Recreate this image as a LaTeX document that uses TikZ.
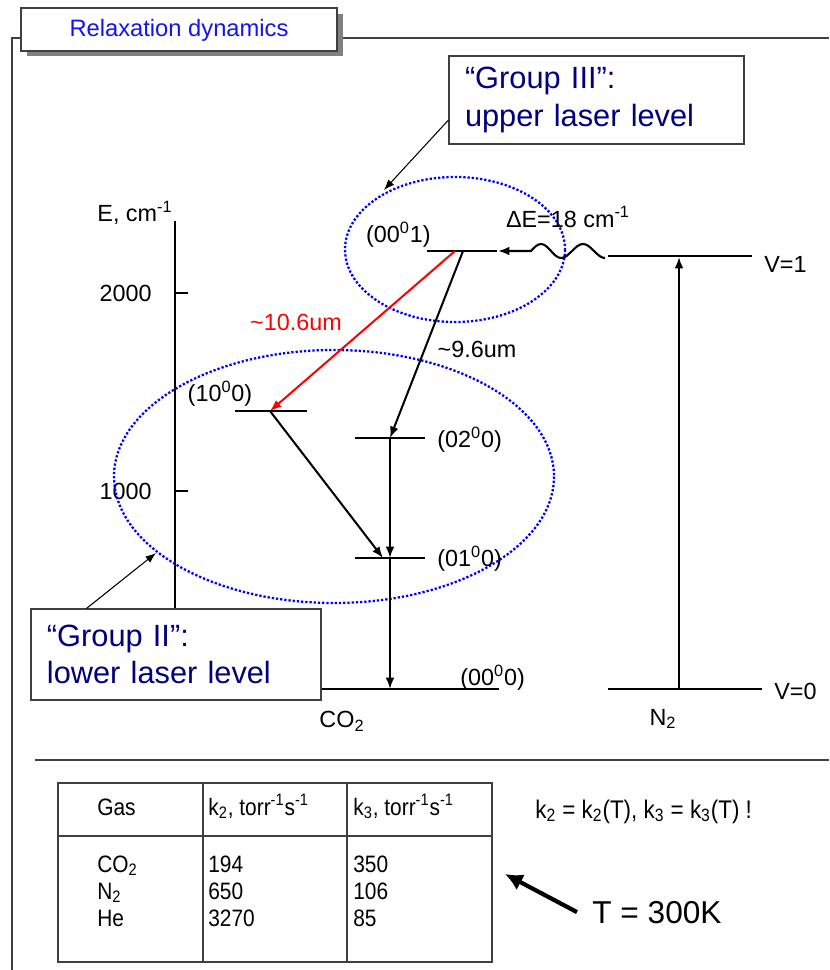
\documentclass[tikz,border=0pt]{standalone}
\usepackage{fontspec}
\setmainfont{Liberation Sans}
\newfontfamily\narrowfont[FakeStretch=0.88]{Liberation Sans}
\usetikzlibrary{arrows.meta}
\definecolor{titleblue}{HTML}{1414F0}
\definecolor{groupblue}{HTML}{00007F}
\definecolor{framegray}{HTML}{404040}
\definecolor{shadowgray}{HTML}{808080}

\begin{document}
\begin{tikzpicture}[
		x=0.2mm, y=-0.2mm,
		level/.style={line width=1.3pt},
		trans/.style={line width=1.15pt, -{Latex[length=6.5pt,width=5pt]}},
		pointer/.style={line width=0.6pt, -{Latex[length=6pt,width=4.5pt]}},
		group/.style={blue, line width=1.3pt, dash pattern=on 1.3pt off 1.1pt},
		gbox/.style={draw=framegray, line width=0.6pt, fill=white, text=groupblue, align=left,
			font=\fontsize{17.5}{21.5}\selectfont, inner xsep=3.2mm},
		lbl/.style={font=\fontsize{13.3}{15}\selectfont, inner sep=0pt},
		tbl/.style={font=\narrowfont\fontsize{13.5}{15}\selectfont, inner sep=0pt, anchor=base west}
		]
		\useasboundingbox (0,0) rectangle (829,970);
		
		% frame and title
		\draw[framegray, line width=0.8pt] (12,970) -- (12,38) -- (21,38);
		\draw[framegray, line width=0.8pt] (343,38) -- (829,38);
		\fill[shadowgray] (27,14) rectangle (343,56);
		\draw[framegray, line width=0.8pt, fill=white] (21,8) rectangle (337,51);
		\node[font=\fontsize{13.5}{16}\selectfont, text=titleblue] (title) at (179,30) {Relaxation dynamics};
		
		% energy axis
		\draw[level] (175,221) -- (175,612);
		\node[lbl, anchor=center] (eaxis) at (135,213) {E, cm\textsuperscript{-1}};
		\foreach \ty/\tv in {293/2000, 491/1000} {
			\draw[level] (175,\ty) -- (188,\ty);
			\node[lbl, anchor=east] (tick\tv) at (152,\ty) {\tv};
		}
		
		% groups
		\draw[group] (455,249.5) ellipse [x radius=110, y radius=72.5];
		\draw[group] (334,476.5) ellipse [x radius=220, y radius=126.5];
		
		% levels
		\draw[level] (427,251) -- (497,251);
		\draw[level] (235,411) -- (307,411);
		\draw[level] (355,438) -- (425,438);
		\draw[level] (355,558) -- (425,558);
		\draw[level] (321,689) -- (499,689);
		\draw[level] (608,256) -- (752,256);
		\draw[level] (608,689) -- (762,689);
		
		\coordinate (e001r) at (455,251);
		\coordinate (e001k) at (463,251);
		\coordinate (e001w) at (498,251);
		\coordinate (e100) at (270,411);
		\coordinate (e020) at (390,438);
		\coordinate (e010) at (390,558);
		\coordinate (e010d) at (383,558);
		\coordinate (e000) at (390,689);
		\coordinate (n2up) at (679,257);
		\coordinate (n2dn) at (679,689);
		\coordinate (n2w) at (605,258);
		
		\node[lbl, anchor=east] (l001) at (431,235) {(00\textsuperscript{0}1)};
		\node[lbl] (l100) at (220,394) {(10\textsuperscript{0}0)};
		\node[lbl, anchor=west] (l020) at (437,440) {(02\textsuperscript{0}0)};
		\node[lbl, anchor=west] (l010) at (437,559) {(01\textsuperscript{0}0)};
		\node[lbl, anchor=west] (l000) at (460,678) {(00\textsuperscript{0}0)};
		\node[lbl, anchor=west] (lv1) at (764,264) {V=1};
		\node[lbl, anchor=west] (lv0) at (774,691) {V=0};
		\node[lbl] (lco2) at (342,721) {CO\textsubscript{2}};
		\node[lbl] (ln2) at (663,719) {N\textsubscript{2}};
		\node[lbl] (lde) at (568,217) {ΔE=18 cm\textsuperscript{-1}};
		
		% transitions
		\draw[trans, red] (e001r) -- (e100);
		\node[lbl, text=red] (l106) at (296,322) {\textasciitilde10.6um};
		\draw[trans] (e001k) -- (e020);
		\node[lbl] (l96) at (477,349) {\textasciitilde9.6um};
		\draw[trans] (e100) -- (e010d);
		\draw[trans] (e020) -- (e010);
		\draw[trans] (e010) -- (e000);
		\draw[trans] (n2dn) -- (n2up);
		\draw[trans, line width=1.2pt] (n2w) cos ++(-11,-7) sin ++(-11,-7) cos ++(-11,7) sin ++(-11,7)
			cos ++(-10,-7) sin ++(-10,-7) cos ++(-10,7) -- (e001w);
		
		% group labels
		\node[gbox, text width=52.6mm, minimum height=17.6mm] (g3box) at (596.5,100) {“Group III”:\\upper laser level};
		\draw[pointer] ([yshift=-4mm]g3box.west) -- (384,190);
		\node[gbox, text width=51.6mm, minimum height=18.2mm] (g2box) at (176,654.5) {“Group II”:\\lower laser level};
		\draw[pointer] ([xshift=11.2mm]g2box.north west) -- (156,553);
		
		% table
		\draw[framegray, line width=0.8pt] (35,760) -- (829,760);
		\draw[framegray, line width=0.8pt] (58,783) rectangle (492,962);
		\draw[framegray, line width=0.8pt] (58,836) -- (492,836);
		\foreach \cx in {203,347} {
			\draw[framegray, line width=0.8pt] (\cx,783) -- (\cx,962);
		}
		\node[tbl] (hgas) at (97,815) {Gas};
		\node[tbl] (hk2) at (208,815) {k\textsubscript{2}, torr\textsuperscript{-1}s\textsuperscript{-1}};
		\node[tbl] (hk3) at (353,815) {k\textsubscript{3}, torr\textsuperscript{-1}s\textsuperscript{-1}};
		\node[tbl] (gco2) at (97,872) {CO\textsubscript{2}};
		\node[tbl] (gn2) at (97,899) {N\textsubscript{2}};
		\node[tbl] (ghe) at (97,926) {He};
		\node[tbl] (kco2) at (208,872) {194};
		\node[tbl] (kn2) at (208,899) {650};
		\node[tbl] (khe) at (208,926) {3270};
		\node[tbl] (qco2) at (353,872) {350};
		\node[tbl] (qn2) at (353,899) {106};
		\node[tbl] (qhe) at (353,926) {85};
		\node[tbl, font=\narrowfont\fontsize{14.5}{16}\selectfont] (kT) at (535,818) {k\textsubscript{2} = k\textsubscript{2}(T), k\textsubscript{3} = k\textsubscript{3}(T) !};
		\node[anchor=base west, inner sep=0pt, font=\fontsize{18}{20}\selectfont] (t300) at (592,923) {T = 300K};
		\draw[line width=2.4pt, -{Latex[length=10pt,width=10pt]}] ([xshift=-3mm]t300.west) -- (505,874);
		
	\end{tikzpicture}
\end{document}
